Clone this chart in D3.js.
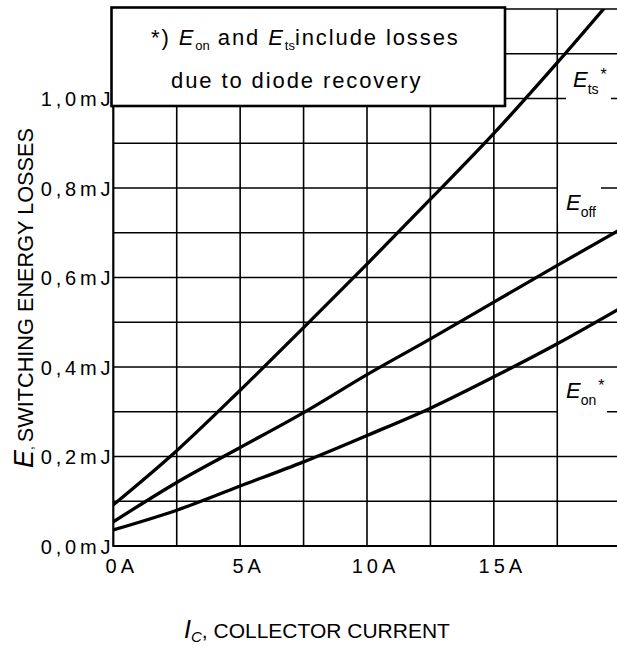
<!DOCTYPE html>
<html>
<head>
<meta charset="utf-8">
<script src="https://cdn.jsdelivr.net/npm/d3@7"></script>
<style>
  body { margin: 0; background: #fff; }
  svg { display: block; font-family: "Liberation Sans", Arial, sans-serif; }
</style>
</head>
<body>
<script>
// collector current (A) and switching losses (mJ)
var current = [0, 2.5, 5, 7.5, 10, 12.5, 15, 17.5, 20];
var eTs  = [0.092, 0.213, 0.348, 0.488, 0.630, 0.775, 0.922, 1.080, 1.245];
var eOff = [0.054, 0.142, 0.220, 0.298, 0.383, 0.463, 0.545, 0.627, 0.708];
var eOn  = [0.036, 0.080, 0.134, 0.188, 0.247, 0.308, 0.378, 0.452, 0.532];

var xTicks = [0, 5, 10, 15];
var xTickLabels = ["0A", "5A", "10A", "15A"];
var xGrid = [0, 2.5, 5, 7.5, 10, 12.5, 15, 17.5];
var yTicks = [0, 0.2, 0.4, 0.6, 0.8, 1.0];
var yTickLabels = ["0,0mJ", "0,2mJ", "0,4mJ", "0,6mJ", "0,8mJ", "1,0mJ"];
var yGrid = [0.1, 0.2, 0.3, 0.4, 0.5, 0.6, 0.7, 0.8, 0.9, 1.0, 1.1, 1.2];

var W = 617, H = 646;
var x = d3.scaleLinear().domain([0, 20]).range([113.3, 620.7]);
var y = d3.scaleLinear().domain([0, 1.2]).range([546, 9]);

var svg = d3.select("body").append("svg")
    .attr("width", W)
    .attr("height", H);

svg.append("clipPath").attr("id", "plot")
  .append("rect")
    .attr("x", x(0)).attr("y", y(1.2))
    .attr("width", W - x(0)).attr("height", y(0) - y(1.2));

// grid
svg.selectAll(".vgrid")
  .data(xGrid)
  .enter().append("line")
    .attr("x1", function(d) { return x(d); })
    .attr("x2", function(d) { return x(d); })
    .attr("y1", y(0)).attr("y2", y(1.2))
    .style("stroke", "#000")
    .style("stroke-width", function(d) { return d == 0 ? 2.2 : 1.6; });

svg.selectAll(".hgrid")
  .data(yGrid)
  .enter().append("line")
    .attr("x1", x(0)).attr("x2", W)
    .attr("y1", function(d) { return y(d); })
    .attr("y2", function(d) { return y(d); })
    .style("stroke", "#000")
    .style("stroke-width", 1.6);

svg.append("line")
    .attr("x1", x(0) - 1).attr("x2", W)
    .attr("y1", y(0)).attr("y2", y(0))
    .style("stroke", "#000").style("stroke-width", 2.2);

// curves
var line = d3.line()
    .x(function(d) { return x(d[0]); })
    .y(function(d) { return y(d[1]); })
    .curve(d3.curveMonotoneX);

[eTs, eOff, eOn].forEach(function(s) {
  svg.append("path")
      .datum(current.map(function(c, i) { return [c, s[i]]; }))
      .attr("clip-path", "url(#plot)")
      .attr("d", line)
      .style("fill", "none")
      .style("stroke", "#000")
      .style("stroke-width", 3.3);
});

// tick labels
var xAxis = d3.axisBottom(x).tickValues(xTicks).tickSize(0)
    .tickFormat(function(d, i) { return xTickLabels[i]; });
var gx = svg.append("g").attr("transform", "translate(8,0)").call(xAxis);
gx.select(".domain").remove();
gx.selectAll("text")
    .attr("y", 573).attr("dy", null)
    .style("font-size", "20px")
    .style("letter-spacing", "4px")
    .style("font-family", "Liberation Sans, Arial, sans-serif")
    .style("fill", "#000");

var yAxis = d3.axisLeft(y).tickValues(yTicks).tickSize(0)
    .tickFormat(function(d, i) { return yTickLabels[i]; });
var gy = svg.append("g").attr("transform", "translate(" + (x(0) + 1) + ",0)").call(yAxis);
gy.select(".domain").remove();
gy.selectAll("text")
    .attr("x", 0).attr("dy", "0.36em")
    .style("font-size", "20px")
    .style("letter-spacing", "3.8px")
    .style("font-family", "Liberation Sans, Arial, sans-serif")
    .style("fill", "#000");

// note box
svg.append("rect")
    .attr("x", 111.5).attr("y", 7.5)
    .attr("width", 393.5).attr("height", 98.5)
    .style("fill", "#fff")
    .style("stroke", "#000")
    .style("stroke-width", 2.6);

var note1 = svg.append("text")
    .attr("x", 151).attr("y", 45)
    .style("font-size", "22px")
    .style("letter-spacing", "1.9px");
note1.append("tspan").text("*) ");
note1.append("tspan").style("font-style", "italic").text("E");
note1.append("tspan").attr("dy", 5).style("font-size", "13px").style("letter-spacing", "0px").text("on");
note1.append("tspan").attr("dy", -5).text(" and ");
note1.append("tspan").style("font-style", "italic").text("E");
note1.append("tspan").attr("dy", 5).style("font-size", "13px").style("letter-spacing", "0px").text("ts");
note1.append("tspan").attr("dy", -5).text("include losses");

svg.append("text")
    .attr("x", 171).attr("y", 88)
    .style("font-size", "22px")
    .style("letter-spacing", "1.9px")
    .text("due to diode recovery");

// curve labels
var labels = [
  {sub: "ts", star: true, bx: 566, by: 66, bw: 45, bh: 35, tx: 573, ty: 87},
  {sub: "off", star: false, bx: 558, by: 186, bw: 43, bh: 36, tx: 566, ty: 210},
  {sub: "on", star: true, bx: 558, by: 377, bw: 49, bh: 36, tx: 566, ty: 398}
];
labels.forEach(function(l) {
  svg.append("rect")
      .attr("x", l.bx).attr("y", l.by)
      .attr("width", l.bw).attr("height", l.bh)
      .style("fill", "#fff");
  var t = svg.append("text").attr("x", l.tx).attr("y", l.ty);
  t.append("tspan").style("font-style", "italic").style("font-size", "22px").text("E");
  t.append("tspan").attr("dy", 7).style("font-size", "14px").text(l.sub);
  if (l.star) t.append("tspan").attr("dy", -14).attr("dx", 2).style("font-size", "16px").text("*");
});

// axis titles
var yt = svg.append("text")
    .attr("transform", "translate(33,468) rotate(-90)");
yt.append("tspan").style("font-style", "italic").style("font-size", "27px").text("E");
yt.append("tspan").style("font-size", "14px").text(", ");
yt.append("tspan").style("font-size", "21.7px").text("SWITCHING ENERGY LOSSES");

var xt = svg.append("text")
    .attr("x", 184).attr("y", 638);
xt.append("tspan").style("font-style", "italic").style("font-size", "25px").text("I");
xt.append("tspan").attr("dy", 4).style("font-style", "italic").style("font-size", "15px").text("C");
xt.append("tspan").attr("dy", -4).style("font-size", "21px").text(", COLLECTOR CURRENT");
</script>
</body>
</html>
